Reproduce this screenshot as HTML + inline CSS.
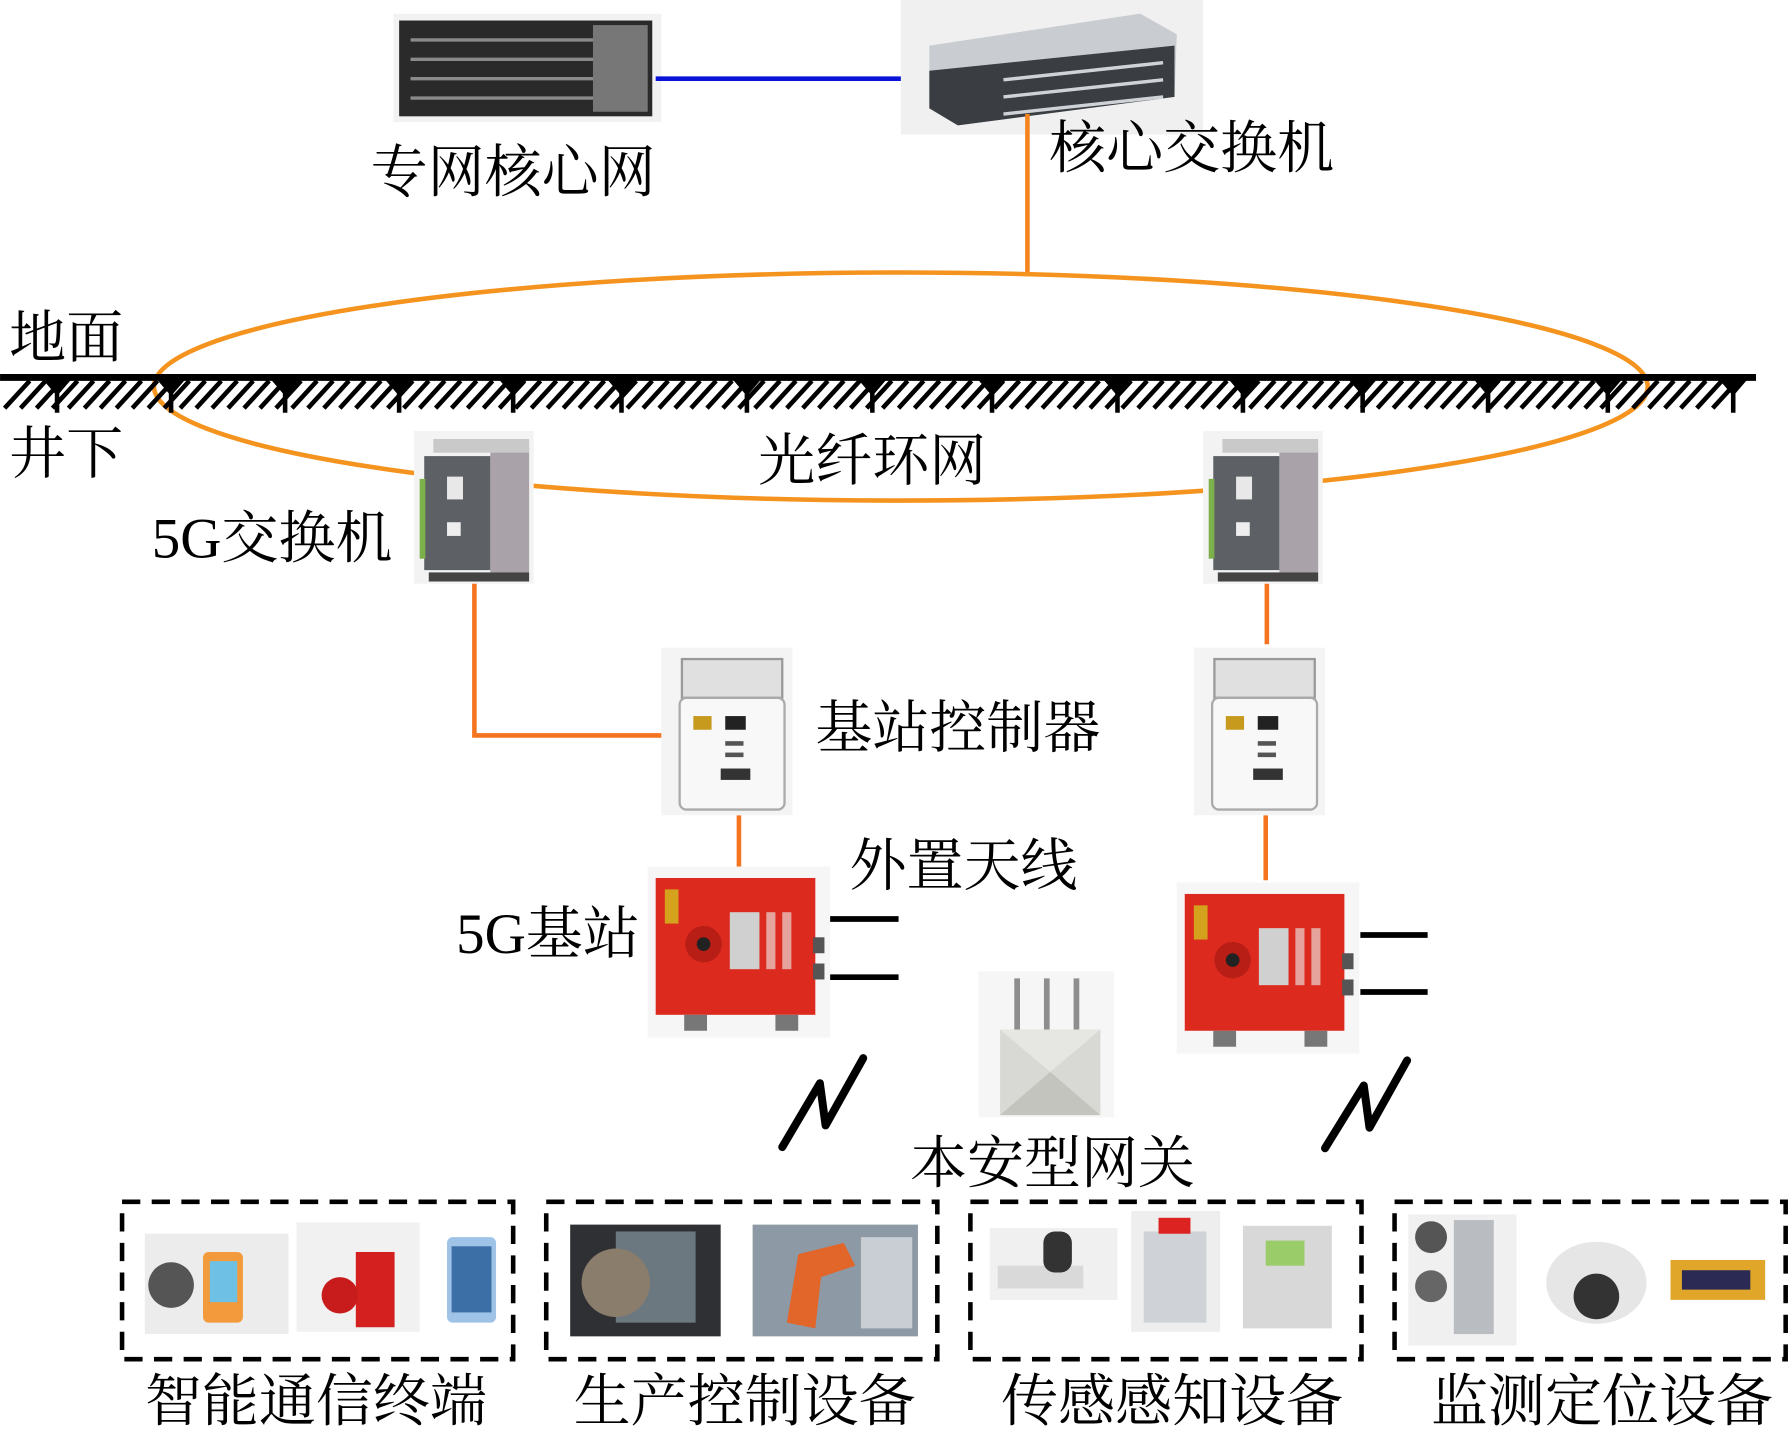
<!DOCTYPE html>
<html><head><meta charset="utf-8"><style>
html,body{margin:0;padding:0;background:#fff;overflow:hidden}
svg{display:block}
text{font-family:"Liberation Serif","Noto Serif CJK SC",serif;font-size:50px;fill:#000}
</style></head><body>
<svg width="1788" height="1431" viewBox="0 0 1568 1255" xmlns="http://www.w3.org/2000/svg">
<!-- server -->
<rect x="345" y="12" width="235" height="95" fill="#f2f2f2"/>
<rect x="350" y="18" width="222" height="84" fill="#2a2a2a"/>
<g stroke="#8a8a8a" stroke-width="3">
<line x1="360" y1="35" x2="565" y2="35"/><line x1="360" y1="52" x2="565" y2="52"/><line x1="360" y1="69" x2="565" y2="69"/><line x1="360" y1="86" x2="565" y2="86"/>
</g>
<rect x="520" y="22" width="48" height="76" fill="#777"/>
<line x1="575" y1="69" x2="815" y2="69" stroke="#0a14d8" stroke-width="4"/>
<!-- core switch -->
<rect x="790" y="0" width="265" height="118" fill="#f0f0f0"/>
<polygon points="815,40 1000,12 1032,30 1030,85 840,110 815,95" fill="#c9ccd0"/>
<polygon points="815,62 1030,40 1030,85 840,110 815,95" fill="#3a3d42"/>
<g stroke="#cfd3d8" stroke-width="3"><line x1="880" y1="70" x2="1020" y2="55"/><line x1="880" y1="85" x2="1020" y2="70"/><line x1="880" y1="100" x2="1020" y2="85"/></g>
<line x1="901" y1="100" x2="901" y2="240" stroke="#f5841f" stroke-width="4"/>
<text x="325" y="168">专网核心网</text>
<text x="920" y="147">核心交换机</text>
<!-- ellipse -->
<ellipse cx="790" cy="339" rx="655" ry="100" fill="none" stroke="#f5931f" stroke-width="4"/>
<!-- ground -->
<line x1="0" y1="331" x2="1540" y2="331" stroke="#000" stroke-width="6"/>
<g stroke="#000" stroke-width="4">
<path d="M4 358 L26 334 M18 358 L40 334 M32 358 L54 334 M46 358 L68 334 M60 358 L82 334 M74 358 L96 334 M88 358 L110 334 M102 358 L124 334 M116 358 L138 334 M130 358 L152 334 M144 358 L166 334 M158 358 L180 334 M172 358 L194 334 M186 358 L208 334 M200 358 L222 334 M214 358 L236 334 M228 358 L250 334 M242 358 L264 334 M256 358 L278 334 M270 358 L292 334 M284 358 L306 334 M298 358 L320 334 M312 358 L334 334 M326 358 L348 334 M340 358 L362 334 M354 358 L376 334 M368 358 L390 334 M382 358 L404 334 M396 358 L418 334 M410 358 L432 334 M424 358 L446 334 M438 358 L460 334 M452 358 L474 334 M466 358 L488 334 M480 358 L502 334 M494 358 L516 334 M508 358 L530 334 M522 358 L544 334 M536 358 L558 334 M550 358 L572 334 M564 358 L586 334 M578 358 L600 334 M592 358 L614 334 M606 358 L628 334 M620 358 L642 334 M634 358 L656 334 M648 358 L670 334 M662 358 L684 334 M676 358 L698 334 M690 358 L712 334 M704 358 L726 334 M718 358 L740 334 M732 358 L754 334 M746 358 L768 334 M760 358 L782 334 M774 358 L796 334 M788 358 L810 334 M802 358 L824 334 M816 358 L838 334 M830 358 L852 334 M844 358 L866 334 M858 358 L880 334 M872 358 L894 334 M886 358 L908 334 M900 358 L922 334 M914 358 L936 334 M928 358 L950 334 M942 358 L964 334 M956 358 L978 334 M970 358 L992 334 M984 358 L1006 334 M998 358 L1020 334 M1012 358 L1034 334 M1026 358 L1048 334 M1040 358 L1062 334 M1054 358 L1076 334 M1068 358 L1090 334 M1082 358 L1104 334 M1096 358 L1118 334 M1110 358 L1132 334 M1124 358 L1146 334 M1138 358 L1160 334 M1152 358 L1174 334 M1166 358 L1188 334 M1180 358 L1202 334 M1194 358 L1216 334 M1208 358 L1230 334 M1222 358 L1244 334 M1236 358 L1258 334 M1250 358 L1272 334 M1264 358 L1286 334 M1278 358 L1300 334 M1292 358 L1314 334 M1306 358 L1328 334 M1320 358 L1342 334 M1334 358 L1356 334 M1348 358 L1370 334 M1362 358 L1384 334 M1376 358 L1398 334 M1390 358 L1412 334 M1404 358 L1426 334 M1418 358 L1440 334 M1432 358 L1454 334 M1446 358 L1468 334 M1460 358 L1482 334 M1474 358 L1496 334 M1488 358 L1510 334 M1502 358 L1524 334"/>
</g>
<g fill="#000">
<path d="M36 331 L64 331 L52 345 L52 362 L48 362 L48 345 Z"/>
<path d="M136 331 L164 331 L152 345 L152 362 L148 362 L148 345 Z"/>
<path d="M236 331 L264 331 L252 345 L252 362 L248 362 L248 345 Z"/>
<path d="M336 331 L364 331 L352 345 L352 362 L348 362 L348 345 Z"/>
<path d="M436 331 L464 331 L452 345 L452 362 L448 362 L448 345 Z"/>
<path d="M531 331 L559 331 L547 345 L547 362 L543 362 L543 345 Z"/>
<path d="M641 331 L669 331 L657 345 L657 362 L653 362 L653 345 Z"/>
<path d="M751 331 L779 331 L767 345 L767 362 L763 362 L763 345 Z"/>
<path d="M856 331 L884 331 L872 345 L872 362 L868 362 L868 345 Z"/>
<path d="M966 331 L994 331 L982 345 L982 362 L978 362 L978 345 Z"/>
<path d="M1076 331 L1104 331 L1092 345 L1092 362 L1088 362 L1088 345 Z"/>
<path d="M1181 331 L1209 331 L1197 345 L1197 362 L1193 362 L1193 345 Z"/>
<path d="M1291 331 L1319 331 L1307 345 L1307 362 L1303 362 L1303 345 Z"/>
<path d="M1396 331 L1424 331 L1412 345 L1412 362 L1408 362 L1408 345 Z"/>
<path d="M1506 331 L1534 331 L1522 345 L1522 362 L1518 362 L1518 345 Z"/>
</g>
<text x="8" y="313">地面</text>
<text x="8" y="415">井下</text>
<text x="665" y="421">光纤环网</text>
<text x="133" y="489">5G交换机</text>
<!-- 5G switches -->
<g id="sw">
<rect x="363" y="378" width="105" height="134" fill="#f3f3f3"/>
<rect x="372" y="400" width="58" height="100" fill="#5d6166"/>
<rect x="430" y="392" width="34" height="110" fill="#a9a2a8"/>
<rect x="380" y="385" width="84" height="12" fill="#c9c9c9"/>
<rect x="392" y="418" width="14" height="20" fill="#e8e8e8"/>
<rect x="392" y="458" width="12" height="12" fill="#eee"/>
<rect x="368" y="420" width="5" height="70" fill="#7bb04b"/>
<rect x="376" y="502" width="88" height="8" fill="#444"/>
</g>
<use href="#sw" x="692" y="0"/>
<!-- orange links -->
<polyline points="416,512 416,645 580,645" fill="none" stroke="#f5741f" stroke-width="4"/>
<line x1="1111" y1="512" x2="1111" y2="565" stroke="#f5741f" stroke-width="4"/>
<line x1="648" y1="715" x2="648" y2="760" stroke="#f5741f" stroke-width="4"/>
<line x1="1110" y1="715" x2="1110" y2="772" stroke="#f5741f" stroke-width="4"/>
<!-- controllers -->
<g id="ct">
<rect x="580" y="568" width="115" height="147" fill="#f4f4f4"/>
<rect x="598" y="578" width="88" height="34" fill="#e0e0e0" stroke="#999" stroke-width="2"/>
<rect x="596" y="612" width="92" height="98" rx="6" fill="#f8f8f8" stroke="#aaa" stroke-width="2"/>
<rect x="608" y="628" width="16" height="12" fill="#c79a1e"/>
<rect x="636" y="628" width="18" height="12" fill="#222"/>
<rect x="636" y="650" width="16" height="4" fill="#555"/><rect x="636" y="660" width="16" height="4" fill="#555"/>
<rect x="632" y="674" width="26" height="10" fill="#333"/>
</g>
<use href="#ct" x="467" y="0"/>
<text x="715" y="655">基站控制器</text>
<text x="745" y="776">外置天线</text>
<text x="400" y="836">5G基站</text>
<!-- base stations -->
<g id="bs">
<rect x="568" y="760" width="160" height="150" fill="#f6f6f6"/>
<rect x="575" y="770" width="140" height="120" fill="#dc2a1e"/>
<rect x="583" y="780" width="12" height="30" fill="#d4a21c"/>
<circle cx="617" cy="828" r="16" fill="#b81e15"/><circle cx="617" cy="828" r="6" fill="#222"/>
<rect x="640" y="800" width="26" height="50" fill="#d0d0d0"/>
<rect x="672" y="800" width="8" height="50" fill="#e6a29c"/><rect x="686" y="800" width="8" height="50" fill="#e6a29c"/>
<rect x="600" y="890" width="20" height="14" fill="#777"/><rect x="680" y="890" width="20" height="14" fill="#777"/>
<rect x="713" y="822" width="10" height="14" fill="#555"/><rect x="713" y="845" width="10" height="14" fill="#555"/>
</g>
<use href="#bs" x="464" y="14"/>
<g stroke="#000" stroke-width="5">
<line x1="728" y1="806" x2="788" y2="806"/><line x1="728" y1="857" x2="788" y2="857"/>
<line x1="1193" y1="820" x2="1252" y2="820"/><line x1="1193" y1="870" x2="1252" y2="870"/>
</g>
<!-- gateway -->
<rect x="858" y="852" width="119" height="128" fill="#f6f6f6"/>
<g stroke="#8e8e8e" stroke-width="5"><line x1="892" y1="858" x2="892" y2="905"/><line x1="918" y1="858" x2="918" y2="905"/><line x1="944" y1="858" x2="944" y2="905"/></g>
<polygon points="877,903 965,903 965,978 877,978" fill="#d8d8d4"/>
<polygon points="877,903 921,940 965,903" fill="#e6e6e2"/>
<polygon points="877,978 921,940 965,978" fill="#c4c4be"/>
<text x="798" y="1037">本安型网关</text>
<!-- lightning -->
<g fill="none" stroke="#000" stroke-width="7" stroke-linejoin="round" stroke-linecap="round">
<path d="M686 1006 L719 950 L724 987 L757 928"/>
<path d="M1162 1007 L1196 952 L1201 989 L1234 930"/>
</g>
<!-- dashed boxes -->
<g fill="none" stroke="#000" stroke-width="4" stroke-dasharray="16,10">
<rect x="107" y="1054" width="343" height="138"/>
<rect x="479" y="1054" width="343" height="138"/>
<rect x="851" y="1054" width="343" height="138"/>
<rect x="1223" y="1054" width="343" height="138"/>
</g>
<!-- box1 -->
<rect x="127" y="1082" width="126" height="88" fill="#ececec"/>
<circle cx="150" cy="1127" r="20" fill="#555"/>
<rect x="178" y="1098" width="35" height="62" rx="5" fill="#f29a3c"/>
<rect x="184" y="1106" width="24" height="36" fill="#6ec1e4"/>
<rect x="260" y="1072" width="108" height="96" fill="#f1f1f1"/>
<rect x="312" y="1098" width="34" height="66" fill="#d52020"/>
<circle cx="298" cy="1136" r="16" fill="#c81c1c"/>
<rect x="392" y="1085" width="43" height="75" rx="5" fill="#9fc3e6"/>
<rect x="396" y="1093" width="35" height="58" fill="#3b6fa5"/>
<!-- box2 -->
<rect x="500" y="1074" width="132" height="98" fill="#2f3033"/>
<rect x="540" y="1080" width="70" height="80" fill="#6c7880"/>
<circle cx="540" cy="1125" r="30" fill="#8b7d6b"/>
<rect x="660" y="1074" width="145" height="98" fill="#8d9aa6"/>
<path d="M690 1160 L700 1100 L740 1090 L750 1110 L720 1120 L715 1165 Z" fill="#e2652a"/>
<rect x="755" y="1085" width="45" height="80" fill="#c8ced4"/>
<!-- box3 -->
<rect x="868" y="1077" width="112" height="63" fill="#f0f0f0"/>
<rect x="875" y="1110" width="75" height="20" fill="#d9d9d9"/>
<rect x="915" y="1080" width="25" height="36" rx="10" fill="#333"/>
<rect x="992" y="1062" width="78" height="106" fill="#eee"/>
<rect x="1003" y="1080" width="55" height="80" fill="#cfd2d6"/>
<rect x="1016" y="1068" width="28" height="14" fill="#d22"/>
<rect x="1090" y="1075" width="78" height="90" fill="#d8d8d8"/>
<rect x="1110" y="1088" width="34" height="22" fill="#9acd6a"/>
<!-- box4 -->
<rect x="1235" y="1065" width="95" height="115" fill="#f0f0f0"/>
<rect x="1275" y="1070" width="35" height="100" fill="#b9bcc0"/>
<circle cx="1255" cy="1085" r="14" fill="#555"/><circle cx="1255" cy="1128" r="14" fill="#666"/>
<ellipse cx="1400" cy="1125" rx="44" ry="36" fill="#e6e6e6"/>
<circle cx="1400" cy="1137" r="20" fill="#333"/>
<rect x="1465" y="1105" width="83" height="35" fill="#e0a629"/>
<rect x="1475" y="1114" width="60" height="17" fill="#2a2a55"/>
<!-- bottom labels -->
<text x="127" y="1246">智能通信终端</text>
<text x="503" y="1246">生产控制设备</text>
<text x="878" y="1246">传感感知设备</text>
<text x="1255" y="1246">监测定位设备</text>
</svg>
</body></html>
